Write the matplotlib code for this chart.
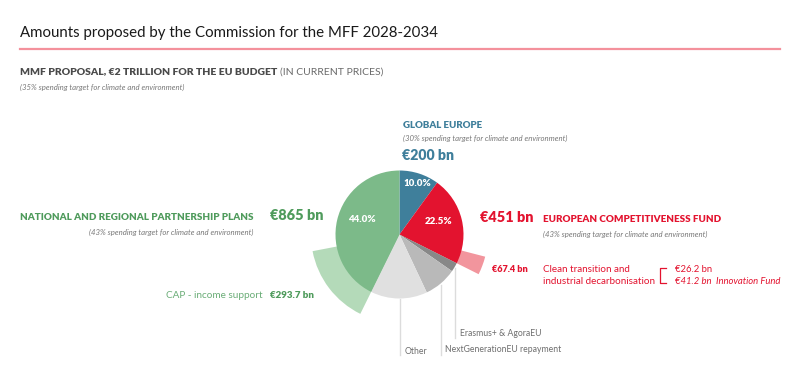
import matplotlib
matplotlib.use("Agg")
import matplotlib.pyplot as plt
from matplotlib.patches import Wedge
import numpy as np

plt.rcParams['font.family'] = ['Lato', 'DejaVu Sans']

# ---- data ----
slice_names = ["Global Europe", "European Competitiveness Fund", "Erasmus+ & AgoraEU",
               "NextGenerationEU repayment", "Other", "National and Regional Partnership Plans"]
slice_shares = [10.0, 22.4, 2.3, 8.3, 14.3, 42.7]        # % of total budget (as drawn)
slice_labels = ["10.0%", "22.5%", None, None, None, "44.0%"]
slice_colors = ["#3f7f9b", "#e3132f", "#888888", "#b9b9b9", "#e0e0e0", "#7cba89"]
total_bn = 2000.0
cap_bn = 293.7        # part of national & regional plans
clean_bn = 67.4       # part of competitiveness fund
clean_parts = ["€26.2 bn", "€41.2 bn  Innovation Fund"]

W, H = 800, 370
fig = plt.figure(figsize=(W / 100, H / 100), dpi=100)
ax = fig.add_axes([0, 0, 1, 1])
ax.set_xlim(0, W)
ax.set_ylim(0, H)
ax.set_aspect('equal')
ax.axis('off')

def Y(y):
    return H - y

cx, cy, R = 399.5, Y(234.5), 64
wedges, _ = ax.pie(slice_shares, startangle=90, counterclock=False, radius=R,
                   center=(cx, cy), colors=slice_colors, frame=True,
                   wedgeprops=dict(linewidth=0))
for w in wedges:
    w.set_zorder(3)
ax.set_xlim(0, W)
ax.set_ylim(0, H)
ax.axis('off')

# slice angle boundaries (clockwise from 90)
cum = np.cumsum([0] + slice_shares) / 100.0
starts = 90 - 360 * cum[:-1]
ends = 90 - 360 * cum[1:]

# CAP sub-wedge: adjacent to the beginning of the green slice
g_end_ccw = starts[5] + 360
ax.add_patch(Wedge((cx, cy), 88.5, g_end_ccw - 360 * cap_bn / total_bn, g_end_ccw,
                   facecolor="#b4dab9", linewidth=0, zorder=2))
# Clean transition sub-wedge: adjacent to the end of red slice
r_end = ends[1]
ax.add_patch(Wedge((cx, cy), 88.5, r_end, r_end + 360 * clean_bn / total_bn,
                   facecolor="#f2959d", linewidth=0, zorder=2))

# slice percentage labels
lab_pos = {0: (417, 184), 1: (439, 221), 5: (362, 219)}
for i, t in enumerate(slice_labels):
    if t:
        x, y = lab_pos[i]
        ax.text(x, Y(y), t, color="white", fontsize=7, fontweight='heavy',
                ha='center', va='center', zorder=5)

# leader lines for the grey slices
lc = "#dcdcdc"
ax.plot([400, 400], [Y(299), Y(355)], color=lc, lw=1, zorder=1)
ax.plot([441, 441], [Y(285), Y(355)], color=lc, lw=1, zorder=1)
ax.plot([454.5, 454.5], [Y(268), Y(338)], color=lc, lw=1, zorder=1)
gtxt = "#6e6e6e"
ax.text(405, Y(351), "Other", color=gtxt, fontsize=6.2, va='center', ha='left')
ax.text(445, Y(350), "NextGenerationEU repayment", color=gtxt, fontsize=6.2, va='center', ha='left')
ax.text(460, Y(333), "Erasmus+ & AgoraEU", color=gtxt, fontsize=6.2, va='center', ha='left')

# title block
ax.text(20, Y(33), "Amounts proposed by the Commission for the MFF 2028-2034",
        fontsize=10.85, color="#1a1a1a", va='center', ha='left')
ax.plot([20, 780], [Y(48.5), Y(48.5)], color="#f4919c", lw=1.6)
t1 = ax.text(20, Y(72), "MMF PROPOSAL, €2 TRILLION FOR THE EU BUDGET", fontsize=7.5,
             fontweight='heavy', color="#4a4a4a", va='center', ha='left')
fig.canvas.draw()
bb = t1.get_window_extent()
ax.text(bb.x1 + 3, Y(72), "(IN CURRENT PRICES)", fontsize=7.5, color="#6a6a6a",
        va='center', ha='left')
ital = dict(fontsize=5.6, style='italic', color="#777777", va='center')
ax.text(20, Y(87), "(35% spending target for climate and environment)", ha='left', **ital)

# global europe
blue = "#3f7f9b"
ax.text(403, Y(125), "GLOBAL EUROPE", fontsize=7.0, fontweight='heavy', color=blue, va='center')
ax.text(403, Y(138), "(30% spending target for climate and environment)", ha='left', **ital)
ax.text(402, Y(156), "€200 bn", fontsize=10.2, fontweight='heavy', color=blue, va='center')

# competitiveness fund
red = "#e3132f"
ax.text(480, Y(218), "€451 bn", fontsize=10.4, fontweight='heavy', color=red, va='center')
ax.text(543, Y(220), "EUROPEAN COMPETITIVENESS FUND", fontsize=7.1, fontweight='heavy',
        color=red, va='center')
ax.text(543, Y(234), "(43% spending target for climate and environment)", ha='left', **ital)
ax.text(492, Y(270), "€67.4 bn", fontsize=6.6, fontweight='heavy', color=red, va='center')
ax.text(543, Y(270), "Clean transition and", fontsize=7.1, color=red, va='center')
ax.text(543, Y(282), "industrial decarbonisation", fontsize=7.1, color=red, va='center')
ax.plot([666, 660, 660, 666], [Y(268), Y(268), Y(283), Y(283)], color=red, lw=0.9)
ax.text(675, Y(270), clean_parts[0], fontsize=6.8, color=red, va='center')
ax.text(675, Y(282), clean_parts[1], fontsize=6.8, color=red, style='italic', va='center')

# national & regional partnership plans
green = "#4f9b5c"
ax.text(253, Y(217), "NATIONAL AND REGIONAL PARTNERSHIP PLANS", fontsize=7.1,
        fontweight='heavy', color=green, va='center', ha='right')
ax.text(270, Y(216), "€865 bn", fontsize=10.4, fontweight='heavy', color=green, va='center')
ax.text(253, Y(232), "(43% spending target for climate and environment)", ha='right', **ital)
ax.text(263, Y(295), "CAP - income support", fontsize=7.2, color="#6aad77", va='center', ha='right')
ax.text(270, Y(295), "€293.7 bn", fontsize=7.0, fontweight='heavy', color=green, va='center')

fig.savefig("out.png", dpi=100)
